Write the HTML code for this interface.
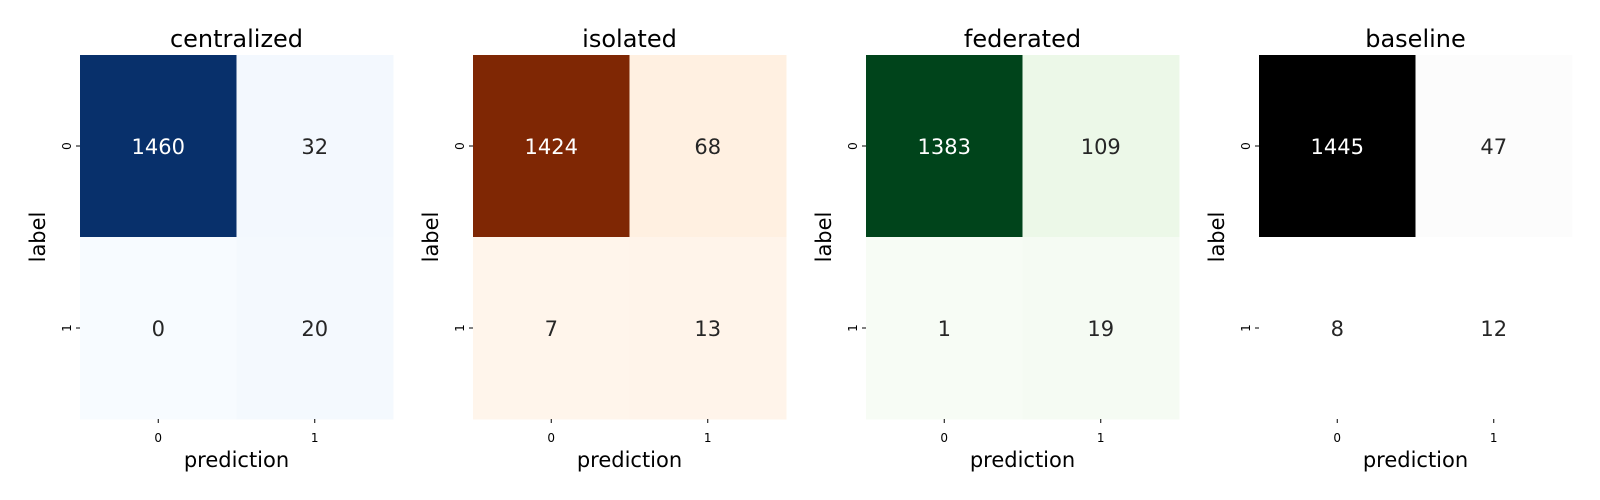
<!DOCTYPE html>
<html><head><meta charset="utf-8">
<style>
html,body{margin:0;padding:0;background:#fff;}
svg{display:block;font-family:"DejaVu Sans","Liberation Sans",sans-serif;}
</style></head>
<body>
<svg id="chart" width="1600" height="500" viewBox="0 0 1600 500" xmlns="http://www.w3.org/2000/svg"></svg>
<script>
const titles = ["centralized", "isolated", "federated", "baseline"];
const classLabels = ["0", "1"];
const centralizedValues = [[1460, 32], [0, 20]];
const isolatedValues = [[1424, 68], [7, 13]];
const federatedValues = [[1383, 109], [1, 19]];
const baselineValues = [[1445, 47], [8, 12]];
const matrices = [centralizedValues, isolatedValues, federatedValues, baselineValues];
const cmaps = [
 ["#f7fbff","#deebf7","#c6dbef","#9ecae1","#6baed6","#4292c6","#2171b5","#08519c","#08306b"],
 ["#fff5eb","#fee6ce","#fdd0a2","#fdae6b","#fd8d3c","#f16913","#d94801","#a63603","#7f2704"],
 ["#f7fcf5","#e5f5e0","#c7e9c0","#a1d99b","#74c476","#41ab5d","#238b45","#006d2c","#00441b"],
 ["#ffffff","#f0f0f0","#d9d9d9","#bdbdbd","#969696","#737373","#525252","#252525","#000000"]
];
const NS = "http://www.w3.org/2000/svg";
const svg = document.getElementById("chart");
const panelLeft0 = 80, panelStep = 393, panelW = 313, top0 = 55, panelH = 364;
function hex(h){return [1,3,5].map(i=>parseInt(h.substr(i,2),16));}
function cmap(stops,t){
  t=Math.max(0,Math.min(1,t));const p=t*(stops.length-1);const i=Math.min(Math.floor(p),stops.length-2);const f=p-i;
  const a=hex(stops[i]),b=hex(stops[i+1]);return a.map((v,k)=>Math.round(v+(b[k]-v)*f));
}
function el(tag,attrs,parent){const e=document.createElementNS(NS,tag);for(const k in attrs)e.setAttribute(k,attrs[k]);(parent||svg).appendChild(e);return e;}
matrices.forEach((m,p)=>{
  const x0 = panelLeft0 + p*panelStep;
  const g = el("g",{});
  
  
  const n = classLabels.length;
  const cw = panelW/n, ch = panelH/n;
  const xScale = j => x0 + j*cw;
  const yScale = i => top0 + i*ch;
  const flat = m.flat(); const vmin=Math.min(...flat), vmax=Math.max(...flat);
  m.forEach((row,i)=>row.forEach((v,j)=>{
    const c = cmap(cmaps[p],(v-vmin)/(vmax-vmin));
    const r = el("rect",{x:xScale(j),y:yScale(i),width:cw+0.5,height:ch+0.5,fill:`rgb(${c})`},g);
    
    
    const lum = (0.299*c[0]+0.587*c[1]+0.114*c[2])/255;
    const t = el("text",{x:xScale(j)+cw/2,y:yScale(i)+ch/2+8,"text-anchor":"middle","font-size":"21",fill:lum<0.5?"#ffffff":"#262626"},g);
    t.textContent = v;
    
    
  }));
  classLabels.forEach((lab,k)=>{
    const tx = xScale(k)+cw/2;
    el("line",{x1:tx,x2:tx,y1:top0+panelH,y2:top0+panelH+4,stroke:"#000","stroke-width":"1"},g);
    const xt = el("text",{x:tx,y:top0+panelH+23,"text-anchor":"middle","font-size":"12",fill:"#000"},g);
    xt.textContent = lab;
    
    
    const ty = yScale(k)+ch/2;
    el("line",{x1:x0-4,x2:x0,y1:ty,y2:ty,stroke:"#000","stroke-width":"1"},g);
    const yt = el("text",{x:0,y:0,"text-anchor":"middle","font-size":"12",fill:"#000",transform:`translate(${x0-9},${ty}) rotate(-90)`},g);
    yt.textContent = lab;
    
    
  });
  const title = el("text",{x:x0+panelW/2,y:47,"text-anchor":"middle","font-size":"24",fill:"#000"},g);
  title.textContent = titles[p];
  
  
  const xl = el("text",{x:x0+panelW/2,y:467,"text-anchor":"middle","font-size":"21",fill:"#000"},g);
  xl.textContent = "prediction";
  
  
  const yl = el("text",{x:0,y:0,"text-anchor":"middle","font-size":"21",fill:"#000",transform:`translate(${x0-35},${top0+panelH/2}) rotate(-90)`},g);
  yl.textContent = "label";
  
  
});
</script>
</body></html>
